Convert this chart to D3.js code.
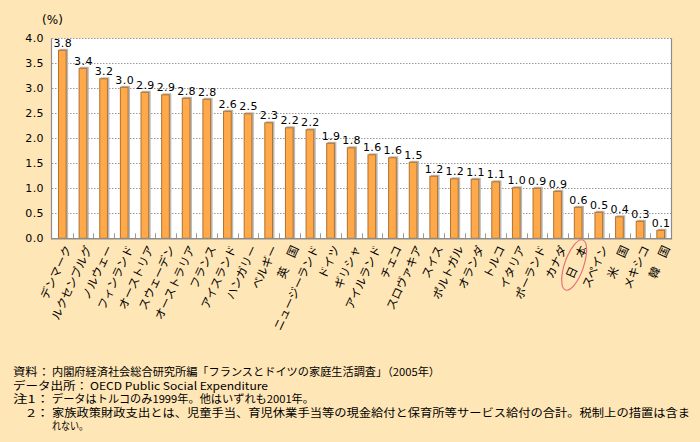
<!DOCTYPE html>
<html><head><meta charset="utf-8">
<script src="https://cdn.jsdelivr.net/npm/d3@7"></script>
<style>
body{margin:0;background:#FFE6B6;}
svg{display:block;}
</style>
</head><body>
<svg id="chart" width="700" height="442"></svg>
<script>
const categories = ["デンマーク","ルクセンブルグ","ノルウェー","フィンランド","オーストリア","スウェーデン","オーストラリア","フランス","アイスランド","ハンガリー","ベルギー","英　国","ニュージーランド","ドイツ","ギリシャ","アイルランド","チェコ","スロヴァキア","スイス","ポルトガル","オランダ","トルコ","イタリア","ポーランド","カナダ","日　本","スペイン","米　国","メキシコ","韓　国"];
const values = [3.77,3.41,3.20,3.03,2.93,2.88,2.81,2.79,2.55,2.50,2.32,2.22,2.18,1.91,1.82,1.68,1.62,1.53,1.25,1.20,1.19,1.14,1.02,1.01,0.95,0.63,0.53,0.44,0.35,0.17];
const valueLabels = ["3.8","3.4","3.2","3.0","2.9","2.9","2.8","2.8","2.6","2.5","2.3","2.2","2.2","1.9","1.8","1.6","1.6","1.5","1.2","1.2","1.1","1.1","1.0","0.9","0.9","0.6","0.5","0.4","0.3","0.1"];
const yTicks = [0,0.5,1.0,1.5,2.0,2.5,3.0,3.5,4.0];
const highlighted = "日　本";
const unitLabel = "(%)";
const notes = [
  ["資料：", "内閣府経済社会総合研究所編「フランスとドイツの家庭生活調査」（2005年）"],
  ["データ出所：", "OECD Public Social Expenditure"],
  ["注1：", "データはトルコのみ1999年。他はいずれも2001年。"],
  ["2：", "家族政策財政支出とは、児童手当、育児休業手当等の現金給付と保育所等サービス給付の合計。税制上の措置は含ま"],
  ["", "れない。"]
];

const svg = d3.select("#chart");
const L = 52, R = 671, T = 38.3, B = 238.3;
const numFont = "'DejaVu Sans', sans-serif";
const jpFont = "'Noto Sans CJK JP', sans-serif";

const x = d3.scaleBand().domain(categories).range([L, R]).paddingInner(0.58).paddingOuter(0.29);
const y = d3.scaleLinear().domain([0, 4]).range([B, T]);

svg.append("rect").attr("width",700).attr("height",442).attr("fill","#FFE6B6");
svg.append("rect").attr("x",L).attr("y",T).attr("width",R-L).attr("height",B-T).attr("fill","#fff");

// gridlines
svg.append("g").selectAll("line").data(yTicks.filter(d=>d>0)).join("line")
  .attr("x1",L).attr("x2",R).attr("y1",d=>Math.round(y(d))+0.5).attr("y2",d=>Math.round(y(d))+0.5)
  .attr("stroke","#9a9a9a").attr("stroke-width",1).attr("stroke-dasharray","1.5,1.5");

// right border
svg.append("line").attr("x1",R+0.5).attr("x2",R+0.5).attr("y1",T).attr("y2",B+1)
  .attr("stroke","#8c8c8c").attr("stroke-width",1.2);

// bars shadow
svg.append("g").selectAll("rect").data(values).join("rect")
  .attr("x",(d,i)=>x(categories[i])+1.5).attr("y",d=>y(d)-1)
  .attr("width",x.bandwidth()).attr("height",d=>B-y(d)+1)
  .attr("fill","#b9b9b9");
// bars
svg.append("g").selectAll("rect").data(values).join("rect")
  .attr("x",(d,i)=>x(categories[i])+0.5).attr("y",d=>y(d)+0.5)
  .attr("width",x.bandwidth()-1).attr("height",d=>B-y(d)-0.5)
  .attr("fill","#FFA94B").attr("stroke","#B07330").attr("stroke-width",1);

// bottom ticks at band boundaries
const step = x.step();
const bounds = d3.range(1, categories.length).map(i => L + i*step);
svg.append("g").selectAll("line").data(bounds).join("line")
  .attr("x1",d=>Math.round(d)+0.5).attr("x2",d=>Math.round(d)+0.5).attr("y1",B-5).attr("y2",B)
  .attr("stroke","#9a9a9a").attr("stroke-width",1);

// axes lines
svg.append("line").attr("x1",L-0.5).attr("x2",L-0.5).attr("y1",T).attr("y2",B+1)
  .attr("stroke","#8c8c8c").attr("stroke-width",1.2);
svg.append("line").attr("x1",L-1).attr("x2",R+1).attr("y1",B+0.5).attr("y2",B+0.5)
  .attr("stroke","#8c8c8c").attr("stroke-width",1.5);

// y tick labels
svg.append("g").selectAll("text").data(yTicks).join("text")
  .attr("x",44).attr("y",d=>y(d)).attr("dy","0.36em")
  .attr("text-anchor","end").attr("font-family",numFont).attr("font-size",11)
  .attr("letter-spacing",0.4).attr("fill","#000")
  .text(d=>d.toFixed(1));

svg.append("text").attr("x",52.5).attr("y",23.5).attr("text-anchor","middle")
  .attr("font-family",numFont).attr("font-size",12).text(unitLabel);

// value labels
svg.append("g").selectAll("text").data(values).join("text")
  .attr("x",(d,i)=>x(categories[i])+x.bandwidth()/2+0.5).attr("y",d=>y(d)-3)
  .attr("text-anchor","middle").attr("font-family",numFont).attr("font-size",11)
  .attr("letter-spacing",0.4).attr("fill","#000")
  .text((d,i)=>valueLabels[i]);

// category labels
svg.append("g").selectAll("text").data(categories).join("text")
  .attr("transform",d=>`translate(${x(d)+x.bandwidth()/2+5},246) rotate(-65)`)
  .attr("text-anchor","end").attr("dominant-baseline","central")
  .attr("font-family",jpFont).attr("font-size",11.5).attr("fill","#000")
  .text(d=>d);

// highlight ellipse
const hx = x(highlighted)+x.bandwidth()/2 - 4;
svg.append("ellipse").attr("cx",0).attr("cy",0).attr("rx",9.5).attr("ry",26.5)
  .attr("transform",`translate(${hx},265) rotate(19)`)
  .attr("fill","none").attr("stroke","#E8707A").attr("stroke-width",1.2);

// notes
const noteY = [376, 389.5, 403, 416.5, 430];
const prefixX = [13, 13, 13, 27, 13];
const prefixW = [37, 75, 37, 23, 0];
const g = svg.append("g").attr("font-family",jpFont).attr("font-size",11).attr("fill","#000");
notes.forEach((n,i)=>{
  if (n[0]) g.append("text").attr("x",prefixX[i]).attr("y",noteY[i])
    .attr("textLength",prefixW[i]).attr("lengthAdjust","spacingAndGlyphs").text(n[0]);
  const tx = i===1 ? 90 : 52;
  const t = g.append("text").attr("x",tx).attr("y",noteY[i]).text(n[1]);
  if (i===3) t.attr("textLength",638).attr("lengthAdjust","spacingAndGlyphs");
  if (i===0) t.attr("textLength",388).attr("lengthAdjust","spacingAndGlyphs");
  if (i===1) t.attr("textLength",178).attr("lengthAdjust","spacingAndGlyphs");
  if (i===2) t.attr("textLength",262).attr("lengthAdjust","spacingAndGlyphs");
  if (i===4) t.attr("textLength",36).attr("lengthAdjust","spacingAndGlyphs");
});
</script>
</body></html>
